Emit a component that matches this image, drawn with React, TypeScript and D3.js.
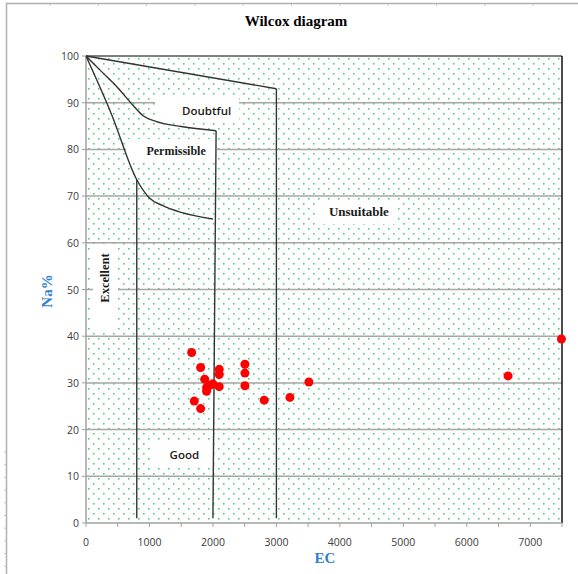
import React from "react";
import * as d3 from "d3";

const W = 578;
const H = 574;

// Axis ticks
const xTicks = [0, 1000, 2000, 3000, 4000, 5000, 6000, 7000];
const xMinorTicks = d3.range(0, 7501, 500);
const yTicks = [0, 10, 20, 30, 40, 50, 60, 70, 80, 90, 100];

// Classification boundaries [EC, Na%]
const doubtfulCurve: [number, number][] = [
  [0, 100], [250, 96.6], [500, 93.2], [750, 89.3], [900, 87.2], [1100, 86.0], [1500, 84.9], [2050, 84.0],
];
const permissibleCurve: [number, number][] = [
  [0, 100], [400, 87.6], [800, 73.5], [1000, 69.6], [1200, 68.0], [1500, 66.5], [2000, 65.1],
];
const unsuitableLine: [number, number][] = [
  [0, 100], [3000, 93.0],
];
const vert800: [number, number][] = [[800, 73.5], [800, 1]];
const vert2000: [number, number][] = [[2050, 84.0], [2000, 1]];
const vert3000: [number, number][] = [[3000, 93.0], [3000, 1]];

// Samples
const ecValues = [1665, 1806, 1870, 1900, 1900, 1950, 2000, 2099, 2099, 2099, 1706, 1806, 2504, 2504, 2504, 2808, 3213, 3512, 6650, 7491];
const naValues = [36.5, 33.3, 30.8, 29.0, 28.2, 29.5, 29.8, 32.9, 31.8, 29.2, 26.1, 24.5, 34.0, 32.1, 29.4, 26.3, 26.9, 30.2, 31.5, 39.4];

// Zone labels
const zoneNames = ["Doubtful", "Permissible", "Unsuitable", "Good"];
const zoneEC = [1900, 1420, 4300, 1550];
const zoneNa = [87.4, 78.8, 65.7, 13.7];

export default function App() {
  const x = d3.scaleLinear().domain([0, 7500]).range([86, 562]);
  const y = d3.scaleLinear().domain([0, 100]).range([523, 56]);
  const line = d3.line<[number, number]>().x((d) => x(d[0])).y((d) => y(d[1]));
  const curve = d3
    .line<[number, number]>()
    .x((d) => x(d[0]))
    .y((d) => y(d[1]))
    .curve(d3.curveMonotoneX);

  const x0 = x(0), x1 = x(7500), yTop = y(100), yBot = y(0);
  const leftRuler = d3.range(452, H, 12.7);
  const topRuler = d3.range(50, W, 48.3);

  const serif = "'Liberation Serif', 'Times New Roman', serif";
  const sans = "'Open Sans', 'Liberation Sans', sans-serif";
  const blue = "#2f80d0";

  // label boxes (white backgrounds)
  const boxes = [
    { x: 155, y: 97, w: 84, h: 25 },
    { x: 126, y: 139, w: 91, h: 21 },
    { x: 316, y: 201, w: 80, h: 23 },
    { x: 93, y: 244, w: 25, h: 89 },
    { x: 150, y: 443, w: 60, h: 24 },
  ];

  return (
    <svg
      width={W}
      height={H}
      style={{ position: "absolute", left: 0, top: 0, background: "#fff" }}
    >
      <defs>
        <pattern id="dots" x={x0} y={yTop} width={10} height={10} patternUnits="userSpaceOnUse">
          <rect x={2} y={2} width={1.6} height={1.6} fill="#2fc46e" opacity={0.85} />
          <rect x={7} y={7} width={1.6} height={1.6} fill="#2fc46e" opacity={0.85} />
        </pattern>
      </defs>

      {/* outer frame */}
      <line x1={6.5} y1={3} x2={6.5} y2={H} stroke="#b0b0b0" strokeWidth={1.5} />
      <line x1={6} y1={3.5} x2={W} y2={3.5} stroke="#b0b0b0" strokeWidth={1.5} />
      {leftRuler.map((v, i) => (
        <line key={"lr" + i} x1={4} x2={6} y1={v} y2={v} stroke="#c8c8c8" />
      ))}
      {topRuler.map((v, i) => (
        <line key={"tr" + i} x1={v} x2={v} y1={4} y2={6} stroke="#c8c8c8" />
      ))}

      {/* title */}
      <text x={296} y={26} textAnchor="middle" fontFamily={serif} fontWeight="bold" fontSize={15} fill="#000">
        Wilcox diagram
      </text>

      {/* plot background */}
      <rect x={x0} y={yTop} width={x1 - x0} height={yBot - yTop} fill="#fff" />
      <rect x={x0} y={yTop} width={x1 - x0} height={yBot - yTop} fill="url(#dots)" />

      {/* gridlines */}
      {yTicks.slice(1, -1).map((t) => (
        <line key={"g" + t} x1={x0} x2={x1} y1={y(t)} y2={y(t)} stroke="#a6a6a6" strokeWidth={1.5} />
      ))}

      {/* label boxes */}
      {boxes.map((b, i) => (
        <rect key={"b" + i} x={b.x} y={b.y} width={b.w} height={b.h} fill="#fff" />
      ))}

      {/* plot border */}
      <line x1={x0} x2={x1} y1={yTop} y2={yTop} stroke="#555" strokeWidth={1.5} />
      <line x1={x1} x2={x1} y1={yTop} y2={yBot} stroke="#111" strokeWidth={1.5} />
      <line x1={x0} x2={x0} y1={yTop} y2={yBot} stroke="#a0a0a0" strokeWidth={1.5} />
      <line x1={x0} x2={x1} y1={yBot} y2={yBot} stroke="#a0a0a0" strokeWidth={1.5} />

      {/* boundaries */}
      <g fill="none" stroke="#333" strokeWidth={1.4}>
        <path d={line(unsuitableLine) || ""} />
        <path d={curve(doubtfulCurve) || ""} />
        <path d={curve(permissibleCurve) || ""} />
        <path d={line(vert800) || ""} />
        <path d={line(vert2000) || ""} />
        <path d={line(vert3000) || ""} />
      </g>

      {/* zone labels */}
      <text x={x(zoneEC[0])} y={y(zoneNa[0])} textAnchor="middle" fontFamily={sans} fontWeight={600} fontSize={11.5} fill="#1a1a1a">
        {zoneNames[0]}
      </text>
      <text x={x(zoneEC[1])} y={y(zoneNa[1])} textAnchor="middle" fontFamily={serif} fontWeight="bold" fontSize={12} fill="#1a1a1a">
        {zoneNames[1]}
      </text>
      <text x={x(zoneEC[2])} y={y(zoneNa[2])} textAnchor="middle" fontFamily={serif} fontWeight="bold" fontSize={13} fill="#1a1a1a">
        {zoneNames[2]}
      </text>
      <text x={x(zoneEC[3])} y={y(zoneNa[3])} textAnchor="middle" fontFamily={sans} fontWeight={600} fontSize={11.5} fill="#1a1a1a">
        {zoneNames[3]}
      </text>
      <text
        transform={`translate(${109},${278}) rotate(-90)`}
        textAnchor="middle"
        fontFamily={serif}
        fontWeight="bold"
        fontSize={12.5}
        fill="#1a1a1a"
      >
        Excellent
      </text>

      {/* axes ticks */}
      {yTicks.map((t) => (
        <g key={"yt" + t}>
          <line x1={x0 - 4} x2={x0} y1={y(t)} y2={y(t)} stroke="#a0a0a0" />
          <text x={x0 - 7} y={y(t) + 4} textAnchor="end" fontFamily={sans} fontSize={10.5} fill="#404040">
            {t}
          </text>
        </g>
      ))}
      {xMinorTicks.map((t) => (
        <line key={"xm" + t} x1={x(t)} x2={x(t)} y1={yBot} y2={yBot + 4} stroke="#a0a0a0" />
      ))}
      {xTicks.map((t) => (
        <text key={"xt" + t} x={x(t)} y={yBot + 23} textAnchor="middle" fontFamily={sans} fontSize={10.5} fill="#404040">
          {t}
        </text>
      ))}

      {/* axis titles */}
      <text x={325} y={563} textAnchor="middle" fontFamily={serif} fontWeight="bold" fontSize={15} fill={blue}>
        EC
      </text>
      <text transform="translate(52,291) rotate(-90)" textAnchor="middle" fontFamily={serif} fontWeight="bold" fontSize={15} fill={blue}>
        Na%
      </text>

      {/* samples */}
      {ecValues.map((v, i) => (
        <circle key={"p" + i} cx={x(v)} cy={y(naValues[i])} r={4.5} fill="#ff0000" />
      ))}
    </svg>
  );
}
